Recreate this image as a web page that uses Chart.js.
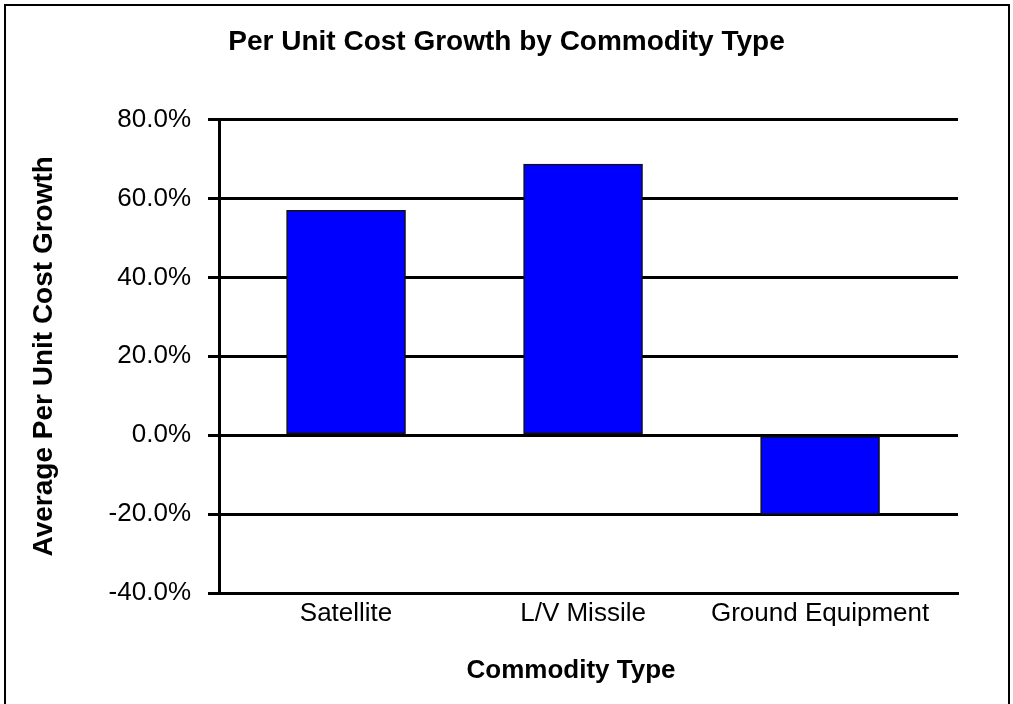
<!DOCTYPE html>
<html>
<head>
<meta charset="utf-8">
<title>Per Unit Cost Growth by Commodity Type</title>
<script src="https://cdn.jsdelivr.net/npm/chart.js@4"></script>
<style>
    html, body { margin: 0; padding: 0; background: #fff; }
    #wrap { position: relative; width: 1013px; height: 704px; overflow: hidden; }
    #frame {
        position: absolute; left: 4px; top: 4px; width: 1002px; height: 760px;
        border: 2px solid #000;
    }
    #costChart { position: absolute; left: 0; top: 0; }
</style>
</head>
<body>
<div id="wrap">
    <div id="frame"></div>
    <canvas id="costChart" width="1013" height="704"></canvas>
</div>
<script>
const commodities = ['Satellite', 'L/V Missile', 'Ground Equipment'];
const costGrowth = [57.0, 68.7, -20.1];
const yTicks = [-40, -20, 0, 20, 40, 60, 80];
const xAxisTitle = 'Commodity Type';

const fontFamily = '"Liberation Sans", Arial, Helvetica, sans-serif';

// x axis caption sits a little left of the plot centre
const axisCaption = {
    id: 'axisCaption',
    afterDraw: function (chart) {
        const c = chart.ctx;
        c.save();
        c.fillStyle = '#000';
        c.font = 'bold 26px ' + fontFamily;
        c.textAlign = 'center';
        c.textBaseline = 'middle';
        c.fillText(xAxisTitle, 571, 671);
        c.restore();
    }
};

document.addEventListener('DOMContentLoaded', function () {
    const ctx = document.getElementById('costChart');

    new Chart(ctx, {
        type: 'bar',
        data: {
            datasets: [{
                label: 'Average Per Unit Cost Growth',
                data: costGrowth.map(function (v, i) { return { x: i, y: v }; }),
                backgroundColor: '#0000ff',
                borderColor: '#111',
                borderWidth: 1.5,
                borderSkipped: false,
                barThickness: 119,
                yAxisID: 'y'
            }]
        },
        options: {
            responsive: false,
            animation: false,
            layout: { padding: 0 },
            plugins: {
                legend: { display: false },
                tooltip: { enabled: false },
                title: {
                    display: true,
                    text: 'Per Unit Cost Growth by Commodity Type',
                    color: '#000',
                    font: { family: fontFamily, size: 28, weight: 'bold' },
                    padding: { top: 25, bottom: 61 }
                }
            },
            scales: {
                x: {
                    type: 'linear',
                    min: -0.536,
                    max: 2.582,
                    offset: false,
                    afterBuildTicks: function (scale) {
                        scale.ticks = commodities.map(function (c, i) { return { value: i }; });
                    },
                    afterFit: function (scale) { scale.height = 111; },
                    ticks: {
                        autoSkip: false,
                        maxRotation: 0,
                        padding: 5,
                        color: '#000',
                        font: { family: fontFamily, size: 26 },
                        callback: function (value) { return commodities[value]; }
                    },
                    grid: { display: false, drawTicks: false },
                    border: { display: true, color: '#000', width: 3 }
                },
                y: {
                    min: -40,
                    max: 80,
                    afterBuildTicks: function (scale) {
                        scale.ticks = yTicks.map(function (v) { return { value: v }; });
                    },
                    afterFit: function (scale) { scale.width = 219; },
                    ticks: {
                        padding: 17,
                        color: '#000',
                        font: { family: fontFamily, size: 26 },
                        callback: function (value) { return value.toFixed(1) + '%'; }
                    },
                    grid: {
                        color: '#000',
                        lineWidth: 3,
                        drawTicks: true,
                        tickLength: 11,
                        tickColor: '#000',
                        tickWidth: 3
                    },
                    border: { display: true, color: '#000', width: 3 },
                    title: {
                        display: true,
                        text: 'Average Per Unit Cost Growth',
                        color: '#000',
                        font: { family: fontFamily, size: 28, weight: 'bold' },
                        padding: { top: 27, bottom: 0 }
                    }
                },
                // empty right-hand margin so the title centres on the full width
                yRight: {
                    position: 'right',
                    display: true,
                    min: -40,
                    max: 80,
                    afterFit: function (scale) { scale.width = 55; },
                    ticks: { display: false },
                    grid: { display: false, drawTicks: false },
                    border: { display: false }
                }
            }
        },
        plugins: [axisCaption]
    });
});
</script>
</body>
</html>
